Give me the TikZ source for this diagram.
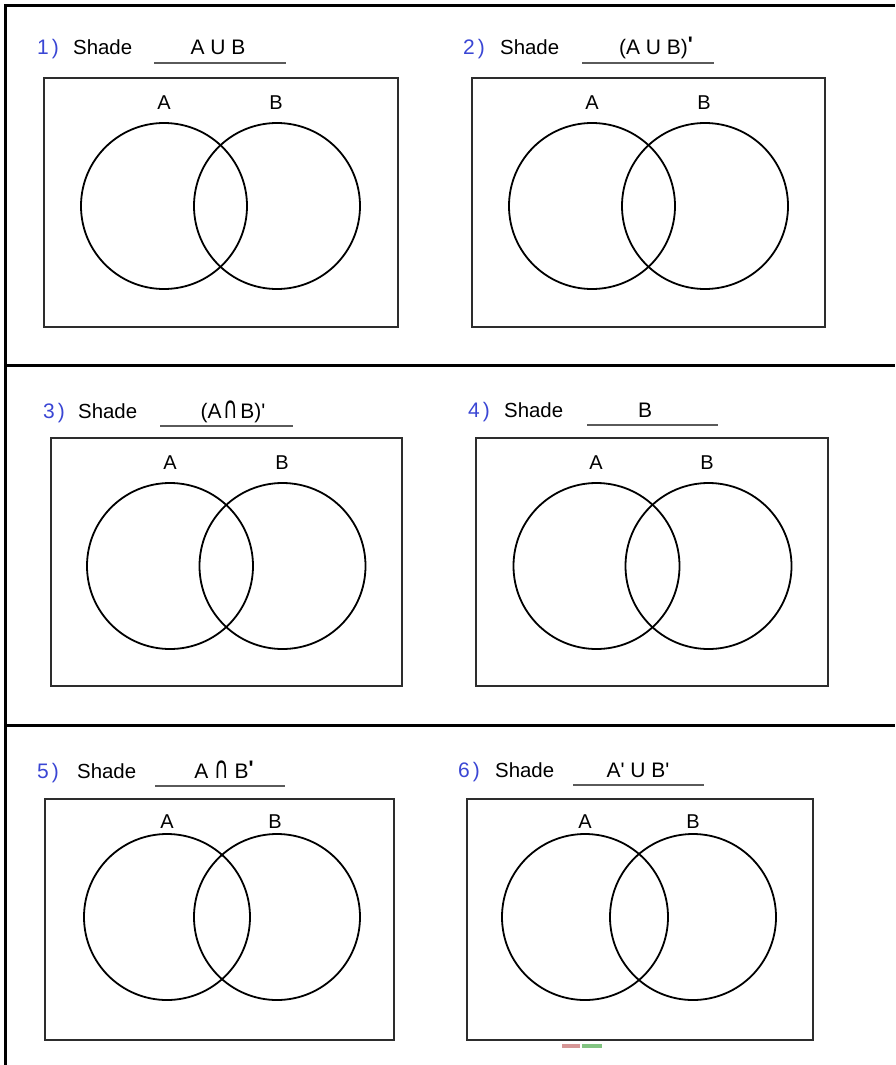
\documentclass[tikz,border=0pt]{standalone}
\usepackage{fontspec}
\usepackage{graphicx}
\setmainfont{Liberation Sans}[Ligatures=TeXOff]
\newfontfamily\symf{DejaVu Sans}[Ligatures=TeXOff]
\definecolor{numblue}{RGB}{58,70,212}
\definecolor{boxgray}{RGB}{45,45,45}
\definecolor{ulgray}{RGB}{90,90,90}
\definecolor{markred}{RGB}{214,150,150}
\definecolor{markgreen}{RGB}{130,196,130}
\tikzset{
  frameline/.style={line width=3pt, black},
  vbox/.style={draw=boxgray, line width=2pt, fill=none},
  vcirc/.style={draw=black, line width=1.8pt, circle, minimum size=166pt, inner sep=0pt},
  setlbl/.style={font=\fontsize{20}{20}\selectfont, inner sep=0pt, anchor=center},
  numlbl/.style={font=\fontsize{21}{21}\selectfont, text=numblue, inner sep=0pt, anchor=base west},
  shadelbl/.style={font=\fontsize{20.4}{20}\selectfont, inner sep=0pt, anchor=base west},
  exprlbl/.style={font=\fontsize{21}{21}\selectfont, inner sep=0pt, anchor=base},
  uline/.style={draw=ulgray, line width=1.3pt},
}
\newcommand{\capsym}{\scalebox{0.95}[1.45]{\symf\char"2229}}
\newcommand{\bprime}{\raisebox{3pt}{\textbf{'}}}
\begin{document}
\begin{tikzpicture}[x=1pt,y=-1pt]
\useasboundingbox (0,0) rectangle (895,1065);
% outer frame and dividers
\coordinate (ftr) at (895,6);
\coordinate (ftl) at (5,6);
\coordinate (fbl) at (5,1065);
\coordinate (d1l) at (5,365);
\coordinate (d1r) at (895,365);
\coordinate (d2l) at (5,725);
\coordinate (d2r) at (895,725);
\draw[frameline] (ftr) -- (ftl) -- (fbl);
\draw[frameline] (d1l) -- (d1r);
\draw[frameline] (d2l) -- (d2r);

% ---------- panel 1 ----------
\node[numlbl] (n1) at (37,55) {1\hspace{3pt})};
\node[shadelbl] (s1) at (73,55) {Shade};
\coordinate (u1a) at (154,63); \coordinate (u1b) at (286,63);
\draw[uline] (u1a) -- (u1b);
\node[exprlbl] (e1) at (218,55) {A U B};
\draw[vbox] (44,78) rectangle (398,327);
\node[setlbl] (la1) at (164,103) {A};
\node[setlbl] (lb1) at (276,103) {B};
\node[vcirc] (ca1) at (164,206) {};
\node[vcirc] (cb1) at (277,206) {};

% ---------- panel 2 ----------
\node[numlbl] (n2) at (463,55) {2\hspace{3pt})};
\node[shadelbl] (s2) at (500,55) {Shade};
\coordinate (u2a) at (582,63); \coordinate (u2b) at (714,63);
\draw[uline] (u2a) -- (u2b);
\node[exprlbl] (e2) at (656,55) {(A U B)\bprime};
\draw[vbox] (472,78) rectangle (825,327);
\node[setlbl] (la2) at (592,103) {A};
\node[setlbl] (lb2) at (704,103) {B};
\node[vcirc] (ca2) at (592,206) {};
\node[vcirc] (cb2) at (705,206) {};

% ---------- panel 3 ----------
\node[numlbl] (n3) at (43,418) {3\hspace{3pt})};
\node[shadelbl] (s3) at (78,418) {Shade};
\coordinate (u3a) at (160,426); \coordinate (u3b) at (293,426);
\draw[uline] (u3a) -- (u3b);
\node[exprlbl] (e3) at (233,418) {(A\hspace{2pt}\capsym\hspace{2pt}B)'};
\draw[vbox] (51,438) rectangle (402,686);
\node[setlbl] (la3) at (170,463) {A};
\node[setlbl] (lb3) at (282,463) {B};
\node[vcirc] (ca3) at (170,566) {};
\node[vcirc] (cb3) at (282.5,566) {};

% ---------- panel 4 ----------
\node[numlbl] (n4) at (468,417) {4\hspace{3pt})};
\node[shadelbl] (s4) at (504,417) {Shade};
\coordinate (u4a) at (587,425); \coordinate (u4b) at (718,425);
\draw[uline] (u4a) -- (u4b);
\node[exprlbl] (e4) at (645,417) {B};
\draw[vbox] (476,438) rectangle (828,686);
\node[setlbl] (la4) at (596,463) {A};
\node[setlbl] (lb4) at (707,463) {B};
\node[vcirc] (ca4) at (596.5,566) {};
\node[vcirc] (cb4) at (708.5,566) {};

% ---------- panel 5 ----------
\node[numlbl] (n5) at (37,778) {5\hspace{3pt})};
\node[shadelbl] (s5) at (77,778) {Shade};
\coordinate (u5a) at (155,786); \coordinate (u5b) at (285,786);
\draw[uline] (u5a) -- (u5b);
\node[exprlbl] (e5) at (224,778) {A \capsym\ B\bprime};
\draw[vbox] (45,799) rectangle (394,1040);
\node[setlbl] (la5) at (167,822) {A};
\node[setlbl] (lb5) at (275,822) {B};
\node[vcirc] (ca5) at (167,917) {};
\node[vcirc] (cb5) at (277,917) {};

% ---------- panel 6 ----------
\node[numlbl] (n6) at (458,777) {6\hspace{3pt})};
\node[shadelbl] (s6) at (495,777) {Shade};
\coordinate (u6a) at (573,785); \coordinate (u6b) at (704,785);
\draw[uline] (u6a) -- (u6b);
\node[exprlbl] (e6) at (638,777) {A' U B'};
\draw[vbox] (467,799) rectangle (813,1040);
\node[setlbl] (la6) at (585,822) {A};
\node[setlbl] (lb6) at (693,822) {B};
\node[vcirc] (ca6) at (585,917) {};
\node[vcirc] (cb6) at (693,917) {};

% small colour mark below panel 6
\fill[markred] (562,1044) rectangle (580,1048);
\fill[markgreen] (582,1044) rectangle (602,1048);
\end{tikzpicture}
\end{document}
